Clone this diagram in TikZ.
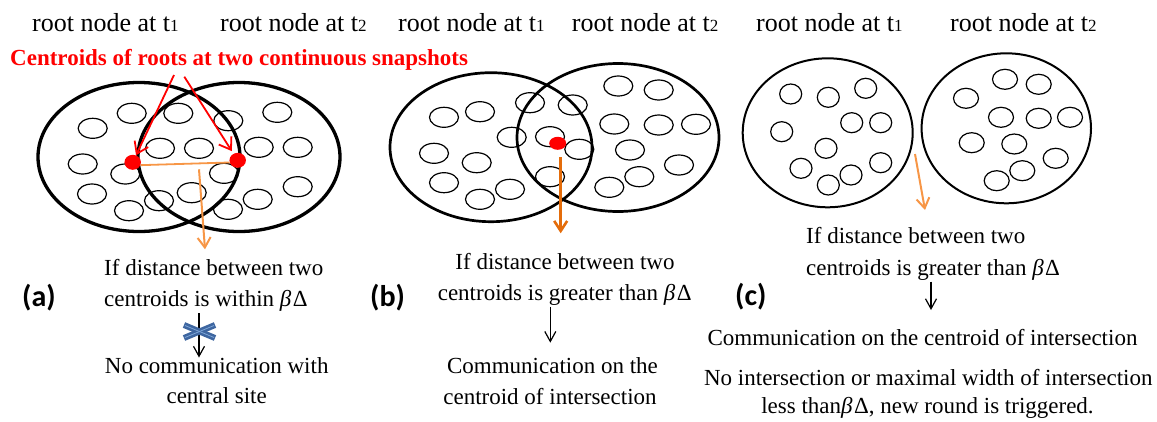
\documentclass[tikz,border=0pt]{standalone}
\usepackage{fontspec}
\setmainfont{Liberation Serif}
\newfontfamily\labelfont{Carlito}
\usetikzlibrary{arrows.meta,shapes.geometric}

\definecolor{lorange}{RGB}{247,150,70}
\definecolor{dorange}{RGB}{228,108,10}
\definecolor{xblue}{RGB}{62,102,160}
\definecolor{xlight}{RGB}{125,165,215}

\newcommand\topsize{\fontsize{26}{30}\selectfont}
\newcommand\bodysize{\fontsize{23}{27}\selectfont}
\newcommand\idx[1]{{\fontsize{17}{20}\selectfont #1}}
\newcommand\bdelta{{\itshape β}\kern1.5pt Δ}

\begin{document}
\begin{tikzpicture}[x=1pt,y=-1pt,
  toplabel/.style={inner sep=0,anchor=base west,font=\topsize},
  bodyl/.style={inner sep=0,anchor=base west,font=\bodysize},
  bodyc/.style={inner sep=0,anchor=base,font=\bodysize},
  panel/.style={inner sep=0,anchor=base west,font=\labelfont\bfseries\fontsize{30}{33}\selectfont},
  cell/.style={line width=1.2pt},
  dot/.style={ellipse,fill=red,inner sep=0,minimum width=16.5pt,minimum height=15pt},
  redarrow/.style={red,line width=1.8pt,-{Straight Barb[length=11pt,width=15pt]}},
  orangearrow/.style={line width=2pt,-{Straight Barb[length=10pt,width=13pt]}},
  blackarrow/.style={line width=1.2pt,-{Straight Barb[length=10pt,width=11pt]}},
  xbar/.style={xblue,line width=6pt},
  xstripe/.style={xlight,line width=0.8pt}]

\useasboundingbox (0,0) rectangle (1157,421);

% ---------- headings ----------
\node[toplabel] (ta1) at (32,31)    {root node at t\idx{1}};
\node[toplabel] (ta2) at (220,31)   {root node at t\idx{2}};
\node[toplabel] (tb1) at (398,31)   {root node at t\idx{1}};
\node[toplabel] (tb2) at (571.7,31) {root node at t\idx{2}};
\node[toplabel] (tc1) at (756,31)   {root node at t\idx{1}};
\node[toplabel] (tc2) at (950,31)   {root node at t\idx{2}};

\node[inner sep=0,anchor=base west,text=red,font=\fontsize{23}{27}\selectfont\bfseries]
  (cent) at (10,65) {Centroids of roots at two continuous snapshots};

% ---------- panel (a): overlapping roots ----------
\draw[line width=3.3pt] (139,157) ellipse [x radius=101,y radius=74.5];
\draw[line width=3.3pt] (239,157) ellipse [x radius=101,y radius=74.5];
\foreach \x/\y in {92.7/128.3,131.7/113.3,178.3/113.3,228.3/120.7,277.3/112.3,
  82.7/164,160/148.3,199/148.3,258.7/147.3,297.7/147.3,125.3/174,224/173.3,
  92/194,159/200.7,191.7/192.7,257.7/199.3,297.7/186.7,129/210.7,228/209.3}
  \draw[cell] (\x,\y) ellipse [x radius=14.5,y radius=10];

\node[dot] (dA1) at (132.7,162.3) {};
\node[dot] (dA2) at (237.7,160.3) {};
\draw[lorange,line width=1.8pt] (dA1.-20) -- (dA2.195);

\coordinate (rA1) at (174,75);
\coordinate (rA2) at (184.3,76.7);
\draw[redarrow] (rA1) -- (dA1);
\draw[redarrow,shorten >=3pt] (rA2) -- (dA2);

\coordinate (oAs) at (199,169.3);
\coordinate (oAe) at (205,249.3);
\draw[lorange,orangearrow] (oAs) -- (oAe);

\node[bodyl] (a1) at (104,275)   {If distance between two};
\node[bodyl] (a2) at (104,306.7) {centroids is within \bdelta};
\node[bodyc] (a3) at (216.7,373.3) {No communication with};
\node[bodyc] (a4) at (216.7,403.3) {central site};
\node[panel] (la) at (22,306.5) {(a)};

\coordinate (bAs) at (199,313.3);
\coordinate (bAe) at (199,357.5);
\draw[blackarrow] (bAs) -- (bAe);
\coordinate (xA) at (199.5,331.5);
\draw[xbar] (xA) ++(-15.5,-6.5) -- ++(31,13);
\draw[xbar] (xA) ++(-15.5,6.5) -- ++(31,-13);
\draw[xstripe] (xA) ++(-14.5,-6) -- ++(29,12);
\draw[xstripe] (xA) ++(-14.5,6) -- ++(29,-12);

% ---------- panel (b): roots moving apart ----------
\draw[line width=2.7pt] (491,147.2) ellipse [x radius=101,y radius=74.5];
\draw[line width=2.7pt] (618,137.5) ellipse [x radius=101,y radius=74];
\foreach \x/\y in {444/117.3,480/111.7,530/102.7,572.7/105,618.3/86,658.7/90,
  511.7/137.3,550/136.7,614.3/124,658.7/125,696/124.3,434/153.3,476.7/162.7,
  579.3/149.3,630/150,444/182.7,510/189.3,480/199.3,550/176.7,609.3/187.3,
  639.3/176.7,679/165}
  \draw[cell] (\x,\y) ellipse [x radius=14.5,y radius=10];

\node[dot,minimum width=17pt,minimum height=13pt] (dB) at (557.7,143.3) {};
\coordinate (oBs) at (560.7,157.3);
\coordinate (oBe) at (560.7,233.3);
\draw[dorange,orangearrow,line width=2.6pt] (oBs) -- (oBe);

\node[bodyc] (b1) at (565,269)   {If distance between two};
\node[bodyc] (b2) at (564.7,300) {centroids is greater than \bdelta};
\node[bodyc] (b3) at (552.5,373.3) {Communication on the};
\node[bodyc] (b4) at (550,404)   {centroid of intersection};
\node[panel] (lb) at (370,306) {(b)};

\coordinate (bBs) at (550.3,306.7);
\coordinate (bBe) at (550.3,342.7);
\draw[blackarrow] (bBs) -- (bBe);

% ---------- panel (c): separate roots ----------
\draw[line width=2pt] (827.7,132.8) ellipse [x radius=85,y radius=74.5];
\draw[line width=2pt] (1006.3,128.3) ellipse [x radius=84.7,y radius=75];
\foreach \x/\y in {790.7/94,828.3/97.3,865.7/88.3,781.7/131.7,851.7/122.7,
  880.7/122.7,826/148.3,801/168.3,828.3/185,851/175,880.7/162.7}
  \draw[cell] (\x,\y) ellipse [x radius=11,y radius=10];
\foreach \x/\y in {966/98.3,1005/79.3,1038.7/84.3,1001/117.3,1038.7/118.3,
  1070/117.3,971.7/142.7,1014.3/144,1055.7/158.3,1022.3/170.7,996.7/180.7}
  \draw[cell] (\x,\y) ellipse [x radius=12.5,y radius=10];

\coordinate (oCs) at (915,154);
\coordinate (oCe) at (925,210);
\draw[lorange,orangearrow] (oCs) -- (oCe);

\node[bodyl] (c1) at (806,243.3) {If distance between two};
\node[bodyl] (c2) at (806,275)   {centroids is greater than \bdelta};
\node[bodyc] (c3) at (922.5,345.7) {Communication on the centroid of intersection};
\node[bodyc] (c4) at (928.3,385) {No intersection or maximal width of intersection};
\node[bodyc] (c5) at (927.5,413.3) {less than\bdelta, new round is triggered.};
\node[panel] (lc) at (735,305) {(c)};

\coordinate (bCs) at (931,281.7);
\coordinate (bCe) at (931,310);
\draw[blackarrow] (bCs) -- (bCe);

\end{tikzpicture}
\end{document}
